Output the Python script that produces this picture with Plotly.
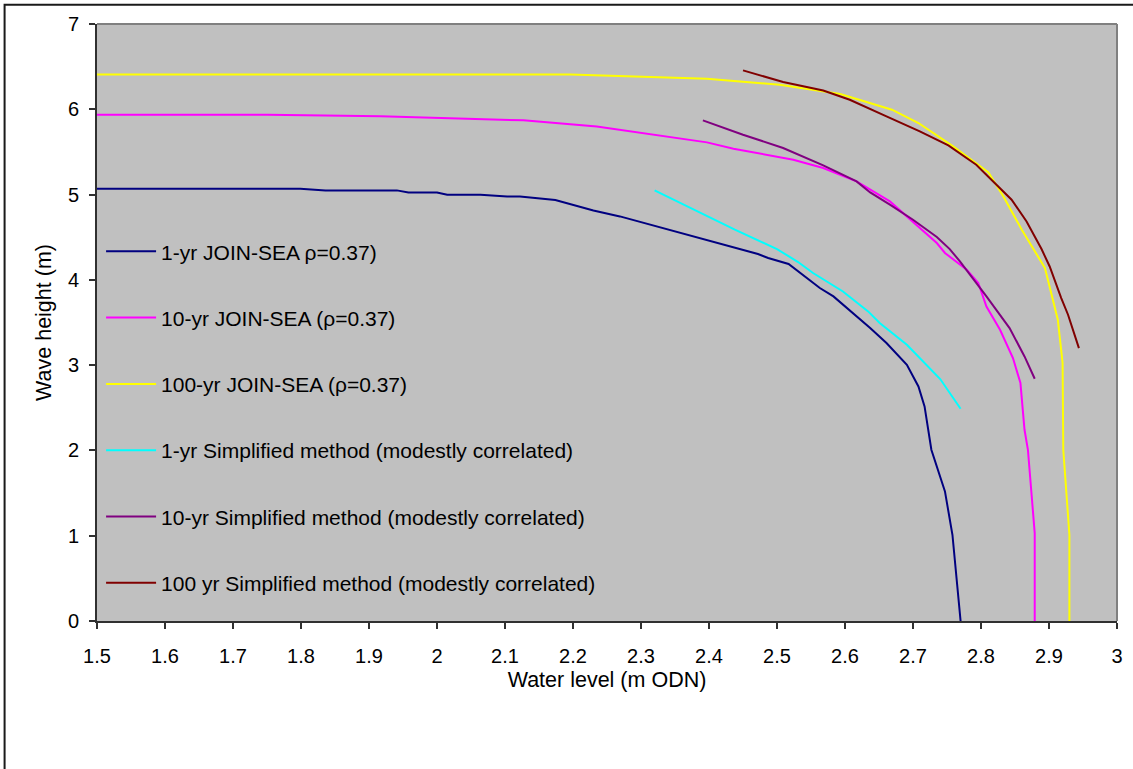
import plotly.graph_objects as go

# ---------------- data ----------------
jsea1_x = [1.5, 1.799, 1.836, 1.941, 1.958, 2.000, 2.015, 2.064, 2.103, 2.122, 2.174, 2.230,
           2.269, 2.323, 2.392, 2.446, 2.472, 2.487, 2.517, 2.563, 2.583, 2.637, 2.661, 2.691,
           2.708, 2.717, 2.727, 2.747, 2.758, 2.770]
jsea1_y = [5.069, 5.069, 5.049, 5.049, 5.025, 5.025, 4.998, 4.998, 4.978, 4.978, 4.936, 4.814,
           4.744, 4.627, 4.479, 4.361, 4.303, 4.256, 4.186, 3.904, 3.806, 3.435, 3.259, 3.005,
           2.750, 2.516, 2.008, 1.519, 1.011, 0.0]

jsea10_x = [1.5, 1.751, 1.917, 2.127, 2.235, 2.397, 2.436, 2.524, 2.568, 2.617, 2.666, 2.713,
            2.735, 2.747, 2.779, 2.796, 2.808, 2.828, 2.847, 2.858, 2.864, 2.869, 2.879, 2.879]
jsea10_y = [5.936, 5.936, 5.917, 5.870, 5.799, 5.612, 5.538, 5.409, 5.311, 5.154, 4.920, 4.588,
            4.432, 4.315, 4.119, 3.963, 3.688, 3.415, 3.083, 2.790, 2.242, 2.008, 1.031, 0.0]

jsea100_x = [1.5, 2.196, 2.397, 2.504, 2.593, 2.669, 2.708, 2.759, 2.811, 2.833, 2.860, 2.894,
             2.913, 2.920, 2.921, 2.930, 2.930]
jsea100_y = [6.409, 6.409, 6.359, 6.288, 6.179, 5.995, 5.839, 5.565, 5.260, 4.978, 4.588, 4.139,
             3.532, 3.025, 2.008, 1.011, 0.0]

simp1_x = [2.320, 2.438, 2.500, 2.531, 2.553, 2.597, 2.634, 2.651, 2.691, 2.740, 2.770]
simp1_y = [5.049, 4.588, 4.361, 4.209, 4.080, 3.864, 3.630, 3.494, 3.239, 2.837, 2.489]

simp10_x = [2.391, 2.450, 2.509, 2.529, 2.568, 2.617, 2.637, 2.666, 2.700, 2.735, 2.754, 2.769,
            2.788, 2.808, 2.842, 2.864, 2.879]
simp10_y = [5.870, 5.702, 5.546, 5.479, 5.342, 5.154, 5.025, 4.881, 4.705, 4.502, 4.361, 4.216,
            4.021, 3.806, 3.435, 3.102, 2.840]

simp100_x = [2.450, 2.509, 2.568, 2.607, 2.661, 2.710, 2.752, 2.793, 2.845, 2.867, 2.889, 2.901,
             2.918, 2.928, 2.944]
simp100_y = [6.456, 6.320, 6.221, 6.112, 5.917, 5.741, 5.576, 5.350, 4.940, 4.685, 4.361, 4.157,
             3.787, 3.591, 3.200]

names = [
    "1-yr JOIN-SEA \u03c1=0.37)",
    "10-yr JOIN-SEA (\u03c1=0.37)",
    "100-yr JOIN-SEA (\u03c1=0.37)",
    "1-yr Simplified method (modestly correlated)",
    "10-yr Simplified method (modestly correlated)",
    "100 yr Simplified method (modestly correlated)",
]
colors = ["#000080", "#FF00FF", "#FFFF00", "#00FFFF", "#800080", "#800000"]
xs = [jsea1_x, jsea10_x, jsea100_x, simp1_x, simp10_x, simp100_x]
ys = [jsea1_y, jsea10_y, jsea100_y, simp1_y, simp10_y, simp100_y]

x_ticks = [1.5, 1.6, 1.7, 1.8, 1.9, 2.0, 2.1, 2.2, 2.3, 2.4, 2.5, 2.6, 2.7, 2.8, 2.9, 3.0]
x_tick_labels = ["1.5", "1.6", "1.7", "1.8", "1.9", "2", "2.1", "2.2", "2.3", "2.4", "2.5",
                 "2.6", "2.7", "2.8", "2.9", "3"]
y_ticks = [0, 1, 2, 3, 4, 5, 6, 7]

FONT = "Arial, Liberation Sans, sans-serif"

fig = go.Figure()
for i in range(len(names)):
    fig.add_trace(go.Scatter(
        x=xs[i], y=ys[i], mode="lines", name=names[i],
        legendgroup=f"g{i}",
        line=dict(color=colors[i], width=2),
    ))

fig.update_layout(
    width=1133, height=769,
    margin=dict(l=97, r=16, t=24, b=148, autoexpand=False),
    paper_bgcolor="white",
    plot_bgcolor="#C0C0C0",
    font=dict(family=FONT, size=20, color="black"),
    showlegend=True,
    legend=dict(
        x=0.004, y=0.653, xanchor="left", yanchor="top",
        bgcolor="rgba(0,0,0,0)", borderwidth=0,
        font=dict(family=FONT, size=21, color="black"),
        traceorder="grouped", tracegroupgap=36,
        itemwidth=50,
    ),
    xaxis=dict(
        range=[1.5, 3.0], tickvals=x_ticks, ticktext=x_tick_labels,
        showgrid=False, zeroline=False, automargin=False,
        showline=True, linecolor="#303030", linewidth=2,
        ticks="outside", ticklen=6, tickwidth=1.5, tickcolor="#303030",
        tickfont=dict(size=20), ticklabelstandoff=10,
        title=dict(text="Water level (m ODN)", font=dict(size=21.5), standoff=6),
    ),
    yaxis=dict(
        range=[0, 7], tickvals=y_ticks,
        showgrid=False, zeroline=False, automargin=False,
        showline=True, linecolor="#303030", linewidth=2,
        ticks="outside", ticklen=6, tickwidth=1.5, tickcolor="#303030",
        tickfont=dict(size=20), ticklabelstandoff=6,
        title=dict(text="Wave height (m)", font=dict(size=21.5), standoff=10),
    ),
    shapes=[
        # grey top / right border of plot area
        dict(type="line", xref="paper", yref="paper", x0=0, x1=1, y0=1, y1=1,
             line=dict(color="#808080", width=2)),
        dict(type="line", xref="paper", yref="paper", x0=1, x1=1, y0=0, y1=1,
             line=dict(color="#808080", width=2)),
        # outer chart frame
        dict(type="rect", xref="paper", yref="paper",
             x0=-0.0906, x1=1.03, y0=-0.27, y1=1.0323,
             line=dict(color="#1a1a1a", width=2), fillcolor="rgba(0,0,0,0)"),
    ],
)

fig.write_html(
    "out.html",
    config={"displayModeBar": False},
    post_script="document.body.style.margin='0';document.body.style.overflow='hidden';",
)
